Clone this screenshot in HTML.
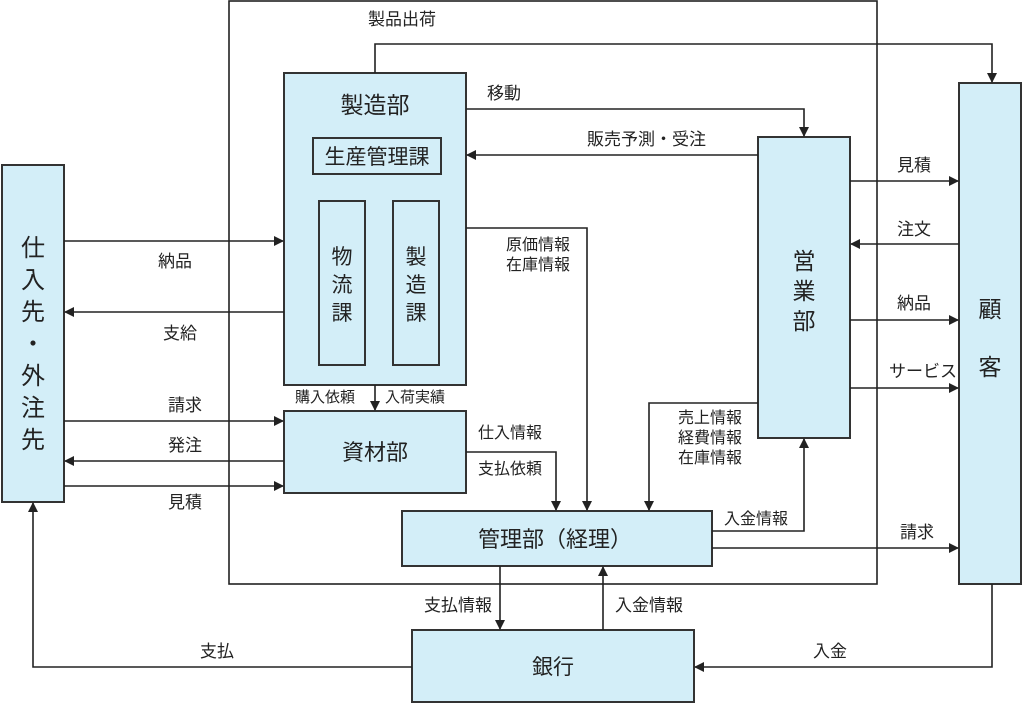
<!DOCTYPE html>
<html><head><meta charset="utf-8"><style>
html,body{margin:0;padding:0;background:#fff}
svg{display:block}
text{font-family:"Liberation Sans","Noto Sans CJK JP",sans-serif;fill:#222}
.b{fill:#d3eef8;stroke:#333;stroke-width:2}
.l{fill:none;stroke:#222;stroke-width:1.6}
.t{font-size:17px}
.s{font-size:16px}
</style></head><body>
<svg width="1024" height="704" viewBox="0 0 1024 704">
<defs><marker id="a" markerWidth="10" markerHeight="10" refX="9" refY="5" orient="auto" markerUnits="userSpaceOnUse"><path d="M0,0 L10,5 L0,10 z" fill="#222"/></marker></defs>
<rect x="229" y="1" width="648" height="583" fill="none" stroke="#222" stroke-width="1.6"/>
<rect class="b" x="284" y="73" width="182" height="312"/>
<rect class="b" x="313" y="138" width="128" height="36"/>
<rect class="b" x="319" y="201" width="46" height="164"/>
<rect class="b" x="393" y="201" width="46" height="164"/>
<rect class="b" x="284" y="411" width="182" height="82"/>
<rect class="b" x="402" y="511" width="310" height="55"/>
<rect class="b" x="412" y="630" width="282" height="72"/>
<rect class="b" x="758" y="137" width="92" height="301"/>
<rect class="b" x="959" y="83" width="62" height="501"/>
<rect class="b" x="2" y="165" width="62" height="337"/>
<text x="375" y="113" font-size="23" text-anchor="middle">製造部</text>
<text x="377" y="164" font-size="21" text-anchor="middle">生産管理課</text>
<text x="342" y="264" font-size="21" text-anchor="middle">物</text>
<text x="342" y="292" font-size="21" text-anchor="middle">流</text>
<text x="342" y="320" font-size="21" text-anchor="middle">課</text>
<text x="416" y="264" font-size="21" text-anchor="middle">製</text>
<text x="416" y="292" font-size="21" text-anchor="middle">造</text>
<text x="416" y="320" font-size="21" text-anchor="middle">課</text>
<text x="375" y="460" font-size="22" text-anchor="middle">資材部</text>
<text x="555" y="547" font-size="22" text-anchor="middle">管理部（経理）</text>
<text x="553" y="674" font-size="21" text-anchor="middle">銀行</text>
<text x="804" y="269" font-size="23" text-anchor="middle">営</text>
<text x="804" y="299" font-size="23" text-anchor="middle">業</text>
<text x="804" y="329" font-size="23" text-anchor="middle">部</text>
<text x="990" y="317" font-size="23" text-anchor="middle">顧</text>
<text x="990" y="375" font-size="23" text-anchor="middle">客</text>
<text x="33" y="256" font-size="24" text-anchor="middle">仕</text>
<text x="33" y="288" font-size="24" text-anchor="middle">入</text>
<text x="33" y="320" font-size="24" text-anchor="middle">先</text>
<text x="33" y="352" font-size="24" text-anchor="middle">・</text>
<text x="33" y="384" font-size="24" text-anchor="middle">外</text>
<text x="33" y="416" font-size="24" text-anchor="middle">注</text>
<text x="33" y="448" font-size="24" text-anchor="middle">先</text>
<path class="l" d="M375,73 V44 H992 V82" marker-end="url(#a)"/>
<path class="l" d="M466,109 H804 V136" marker-end="url(#a)"/>
<path class="l" d="M758,155 H467" marker-end="url(#a)"/>
<path class="l" d="M466,228 H587 V510" marker-end="url(#a)"/>
<path class="l" d="M758,403 H649 V510" marker-end="url(#a)"/>
<path class="l" d="M712,531 H804 V439" marker-end="url(#a)"/>
<path class="l" d="M712,548 H958" marker-end="url(#a)"/>
<path class="l" d="M466,452 H556 V510" marker-end="url(#a)"/>
<path class="l" d="M375,385 V410" marker-end="url(#a)"/>
<path class="l" d="M64,241 H283" marker-end="url(#a)"/>
<path class="l" d="M284,312 H65" marker-end="url(#a)"/>
<path class="l" d="M64,421 H283" marker-end="url(#a)"/>
<path class="l" d="M284,461 H65" marker-end="url(#a)"/>
<path class="l" d="M64,486 H283" marker-end="url(#a)"/>
<path class="l" d="M850,181 H958" marker-end="url(#a)"/>
<path class="l" d="M959,244 H851" marker-end="url(#a)"/>
<path class="l" d="M850,320 H958" marker-end="url(#a)"/>
<path class="l" d="M850,388 H958" marker-end="url(#a)"/>
<path class="l" d="M500,566 V629" marker-end="url(#a)"/>
<path class="l" d="M603,630 V567" marker-end="url(#a)"/>
<path class="l" d="M412,667 H33 V503" marker-end="url(#a)"/>
<path class="l" d="M992,584 V667 H695" marker-end="url(#a)"/>
<text class="t" x="368" y="25">製品出荷</text>
<text class="t" x="487" y="99">移動</text>
<text class="t" x="587" y="145">販売予測・受注</text>
<text class="s" x="506" y="250">原価情報</text>
<text class="s" x="506" y="270">在庫情報</text>
<text class="s" x="678" y="423">売上情報</text>
<text class="s" x="678" y="443">経費情報</text>
<text class="s" x="678" y="463">在庫情報</text>
<text class="s" x="724" y="524">入金情報</text>
<text class="t" x="900" y="538">請求</text>
<text class="s" x="478" y="438">仕入情報</text>
<text class="s" x="478" y="474">支払依頼</text>
<text x="295" y="402" font-size="15">購入依頼</text>
<text x="385" y="402" font-size="15">入荷実績</text>
<text class="t" x="158" y="267">納品</text>
<text class="t" x="163" y="339">支給</text>
<text class="t" x="168" y="411">請求</text>
<text class="t" x="168" y="451">発注</text>
<text class="t" x="168" y="508">見積</text>
<text class="t" x="897" y="171">見積</text>
<text class="t" x="897" y="235">注文</text>
<text class="t" x="897" y="309">納品</text>
<text class="t" x="889" y="377">サービス</text>
<text class="t" x="424" y="611">支払情報</text>
<text class="t" x="615" y="611">入金情報</text>
<text class="t" x="200" y="657">支払</text>
<text class="t" x="813" y="657">入金</text>
</svg>
</body></html>
